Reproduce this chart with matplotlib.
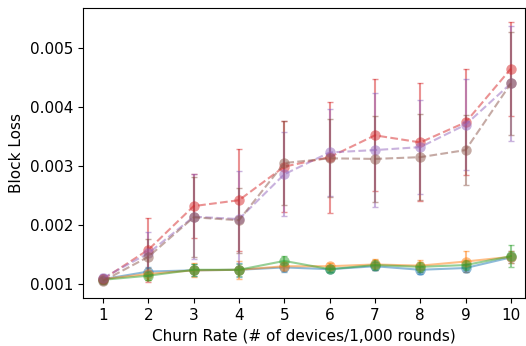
import matplotlib
matplotlib.use("Agg")
import matplotlib.pyplot as plt
import numpy as np

churn = [1, 2, 3, 4, 5, 6, 7, 8, 9, 10]

blue_mean   = [0.00108, 0.00121, 0.00123, 0.00124, 0.00128, 0.00125, 0.00130, 0.00124, 0.00127, 0.00145]
blue_err    = [0.00006, 0.00008, 0.00010, 0.00012, 0.00008, 0.00005, 0.00007, 0.00007, 0.00006, 0.00010]
orange_mean = [0.00108, 0.00117, 0.00123, 0.00124, 0.00130, 0.00130, 0.00133, 0.00131, 0.00138, 0.00146]
orange_err  = [0.00006, 0.00010, 0.00012, 0.00015, 0.00008, 0.00005, 0.00010, 0.00010, 0.00017, 0.00010]
green_mean  = [0.00107, 0.00114, 0.00124, 0.00124, 0.00139, 0.00125, 0.00132, 0.00129, 0.00132, 0.00147]
green_err   = [0.00005, 0.00008, 0.00010, 0.00010, 0.00008, 0.00004, 0.00008, 0.00008, 0.00008, 0.00019]

red_mean    = [0.00108, 0.00158, 0.00232, 0.00242, 0.00299, 0.00315, 0.00352, 0.00340, 0.00374, 0.00465]
red_err     = [0.00005, 0.00054, 0.00054, 0.00086, 0.00077, 0.00094, 0.00095, 0.00100, 0.00090, 0.00080]
purple_mean = [0.00110, 0.00152, 0.00214, 0.00210, 0.00286, 0.00323, 0.00327, 0.00332, 0.00370, 0.00440]
purple_err  = [0.00006, 0.00036, 0.00072, 0.00082, 0.00071, 0.00074, 0.00097, 0.00080, 0.00077, 0.00098]
brown_mean  = [0.00105, 0.00146, 0.00213, 0.00208, 0.00305, 0.00313, 0.00312, 0.00315, 0.00327, 0.00440]
brown_err   = [0.00005, 0.00030, 0.00068, 0.00055, 0.00071, 0.00066, 0.00073, 0.00073, 0.00060, 0.00087]

series = [
    (blue_mean, blue_err, "C0", "-"),
    (orange_mean, orange_err, "C1", "-"),
    (green_mean, green_err, "C2", "-"),
    (red_mean, red_err, "C3", "--"),
    (purple_mean, purple_err, "C4", "--"),
    (brown_mean, brown_err, "C5", "--"),
]

plt.rcParams['font.family'] = ['DejaVu Sans']
fig = plt.figure(figsize=(5.26, 3.46), dpi=100)
ax = fig.add_axes([0.158, 0.139, 0.84, 0.838])

for m, e, c, ls in series:
    cont = ax.errorbar(churn, m, yerr=e, color=c, linestyle=ls, marker='o',
                       linewidth=1.5, capsize=2.5, capthick=1.0, alpha=0.5)
    cont[0].set_markersize(7.5)
    cont[0].set_markeredgewidth(0)

ax.set_xlim(0.56, 10.31)
ax.set_ylim(0.000763, 0.00568)
ax.set_xticks(churn)
ax.set_yticks([0.001, 0.002, 0.003, 0.004, 0.005])
ax.tick_params(labelsize=11)
ax.set_xlabel("Churn Rate (# of devices/1,000 rounds)", fontsize=11)
ax.set_ylabel("Block Loss", fontsize=11)

fig.savefig("out.png", dpi=100)
